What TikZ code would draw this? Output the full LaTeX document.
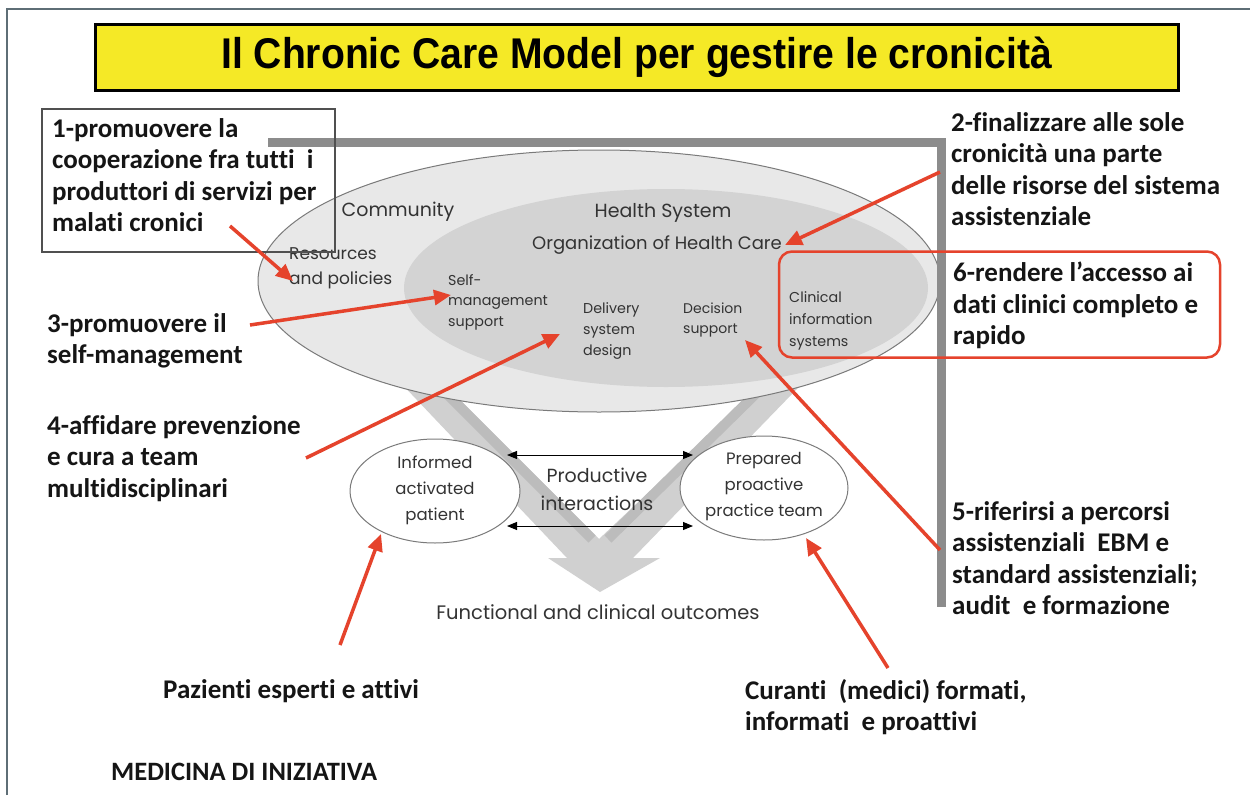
\documentclass[tikz,border=0pt]{standalone}
\usepackage{fontspec}
\setmainfont{Carlito}[Ligatures=NoCommon]
\newfontfamily\titlefont{Liberation Sans}
\newfontfamily\ccmfont{Poppins}
\usetikzlibrary{arrows.meta,shapes.geometric}

\definecolor{ccmred}{HTML}{E5432C}
\definecolor{titleyellow}{HTML}{F5E926}
\definecolor{framecol}{HTML}{5E6E76}
\definecolor{bargray}{HTML}{8C8C8C}
\definecolor{boxgray}{HTML}{505050}
\definecolor{outerfill}{HTML}{E8E8E8}
\definecolor{innerfill}{HTML}{D3D3D3}
\definecolor{edgegray}{HTML}{7A7A7A}
\definecolor{vgray}{HTML}{D0D0D0}
\definecolor{vdark}{HTML}{BCBCBC}
\definecolor{ccmtext}{HTML}{333333}
\definecolor{labelblack}{HTML}{151515}

\tikzset{
  lbl/.style={anchor=north west, inner sep=0pt, align=left,
    font=\bfseries\fontsize{27}{31.5}\selectfont, text=labelblack},
  ccm/.style={inner sep=0pt, align=center, text=ccmtext},
  ccml/.style={inner sep=0pt, align=left, anchor=west, text=ccmtext},
  redarrow/.style={draw=ccmred, line width=3.5pt,
    -{Triangle[length=17pt,width=15pt]}},
  duo/.style={draw=black, line width=1pt,
    {Triangle[length=10pt,width=8pt]}-{Triangle[length=10pt,width=8pt]}},
  oval/.style={ellipse, inner sep=0pt},
}

\begin{document}
\begin{tikzpicture}[x=1pt,y=-1pt]
\useasboundingbox (0,0) rectangle (1250,795);
\fill[white] (0,0) rectangle (1250,795);

% page frame
\draw[framecol, line width=2pt] (7,795) -- (7,9) -- (1250,9);

% title banner
\node[draw=black, line width=3pt, fill=titleyellow, minimum width=1083pt,
  minimum height=66pt, inner sep=0pt] (title) at (636.5,57)
  {\scalebox{0.91}[1]{\titlefont\bfseries\fontsize{43}{48}\selectfont Il Chronic Care Model per gestire le cronicità}};

% V-shaped arrow towards the outcomes
\fill[vgray] (379,360) -- (420,360) -- (599,539) -- (789,360) -- (825,360)
  -- (633,558) -- (660,558) -- (600,592) -- (548,558) -- (567,558) -- cycle;
\draw[vdark, line width=10pt] (425,372) -- (592,539);
\draw[vdark, line width=10pt] (778,372) -- (608,539);

% community and health system
\node[oval, draw=edgegray, line width=1pt, fill=outerfill,
  minimum width=682pt, minimum height=262pt] (community) at (599,281) {};
\node[oval, fill=innerfill, minimum width=524pt, minimum height=198pt]
  (health) at (666,288) {};

\node[ccm, font=\ccmfont\fontsize{19}{22}\selectfont] (commtxt) at (398,212) {Community};
\node[ccm, font=\ccmfont\fontsize{19}{22}\selectfont] (hstxt) at (663,213) {Health System};
\node[ccm, font=\ccmfont\fontsize{18}{20}\selectfont] (orgtxt) at (657,245) {Organization of Health Care};
\node[ccml, font=\ccmfont\fontsize{17}{25}\selectfont] (res) at (289,268.5) {Resources\\and policies};
\node[ccml, font=\ccmfont\fontsize{14.3}{20.5}\selectfont] (sms) at (448,302) {Self-\\management\\support};
\node[ccml, font=\ccmfont\fontsize{14.3}{21}\selectfont] (dsd) at (583,331) {Delivery\\system\\design};
\node[ccml, font=\ccmfont\fontsize{14}{20.5}\selectfont] (dec) at (683,320) {Decision\\support};
\node[ccml, font=\ccmfont\fontsize{14.3}{22}\selectfont] (cis) at (789,321) {Clinical\\information\\systems};

% patient and practice team
\node[oval, draw=edgegray, line width=1pt, fill=white,
  minimum width=170pt, minimum height=104pt] (patient) at (435,491) {};
\node[oval, draw=edgegray, line width=1pt, fill=white,
  minimum width=168pt, minimum height=104pt] (team) at (764,488) {};
\node[ccm, font=\ccmfont\fontsize{16.5}{26}\selectfont] (pattxt) at (435,490) {Informed\\activated\\patient};
\node[ccm, font=\ccmfont\fontsize{16.5}{26}\selectfont] (teamtxt) at (764,487) {Prepared\\proactive\\practice team};
\node[ccm, font=\ccmfont\fontsize{19}{28}\selectfont] (prod) at (597,489) {Productive\\interactions};

\coordinate (pu) at (507,455);
\coordinate (tu) at (693,455);
\coordinate (pd) at (507,526);
\coordinate (td) at (693,526);
\draw[duo] (pu) -- (tu);
\draw[duo] (pd) -- (td);

\node[ccm, font=\ccmfont\fontsize{19.5}{22}\selectfont] (outc) at (598,612) {Functional and clinical outcomes};

% grey frame bar
\draw[bargray, line width=9pt] (268,142.5) -- (941.5,142.5) -- (941.5,607);

% box around the first point
\node[draw=boxgray, line width=1.5pt, minimum width=293pt, minimum height=143pt,
  inner sep=0pt] (box1) at (188.5,180.5) {};

% red box around the sixth point
\node[draw=ccmred, line width=2.5pt, rounded corners=13pt, minimum width=441pt,
  minimum height=106pt, inner sep=0pt] (box6) at (999.5,304.5) {};

% numbered points
\node[lbl] (p1) at (52,118) {1-promuovere la\\cooperazione fra tutti~~i\\produttori di servizi per\\malati cronici};
\node[lbl] (p2) at (951,112) {2-finalizzare alle sole\\cronicità una parte\\delle risorse del sistema\\assistenziale};
\node[lbl] (p3) at (47,313) {3-promuovere il\\self-management};
\node[lbl] (p4) at (47,415) {4-affidare prevenzione\\e cura a team\\multidisciplinari};
\node[lbl] (p5) at (952,501) {5-riferirsi a percorsi\\assistenziali~~EBM e\\standard assistenziali;\\audit~~e formazione};
\node[lbl] (p6) at (953,262) {6-rendere l’accesso ai\\dati clinici completo e\\rapido};
\node[lbl] (paz) at (163,679) {Pazienti esperti e attivi};
\node[lbl] (cur) at (745,679) {Curanti~~(medici) formati,\\informati~~e proattivi};
\node[lbl, font=\bfseries\fontsize{26.5}{30}\selectfont] (med) at (111,763) {MEDICINA DI INIZIATIVA};

% red pointers
\coordinate (a1s) at (230,226);  \coordinate (a1e) at (293,281);
\coordinate (a2s) at (940,172);  \coordinate (a2e) at (785,245);
\coordinate (a3s) at (250,325);  \coordinate (a3e) at (451,295);
\coordinate (a4s) at (306,458);  \coordinate (a4e) at (560,334);
\coordinate (a5s) at (940,550);  \coordinate (a5e) at (745,340);
\coordinate (a7s) at (340,645);  \coordinate (a7e) at (381,534);
\coordinate (a8s) at (888,668);  \coordinate (a8e) at (806,538);
\draw[redarrow] (a1s) -- (a1e);
\draw[redarrow] (a2s) -- (a2e);
\draw[redarrow] (a3s) -- (a3e);
\draw[redarrow] (a4s) -- (a4e);
\draw[redarrow] (a5s) -- (a5e);
\draw[redarrow] (a7s) -- (a7e);
\draw[redarrow] (a8s) -- (a8e);
\end{tikzpicture}
\end{document}
